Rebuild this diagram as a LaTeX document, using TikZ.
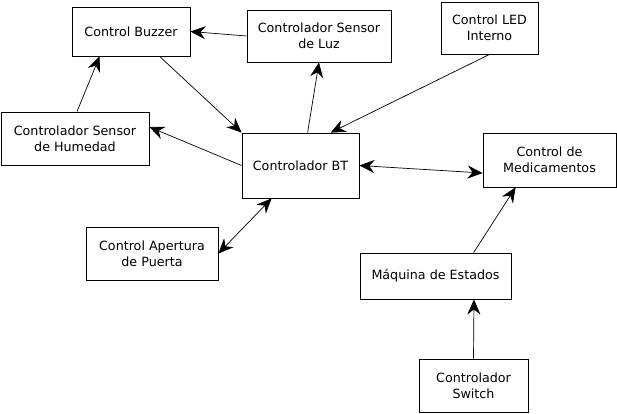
\documentclass[tikz,border=0pt]{standalone}
\usepackage{fontspec}
\setmainfont{DejaVu Sans}
\usetikzlibrary{arrows.meta}
\begin{document}
\begin{tikzpicture}[x=1pt,y=-1pt,
  box/.style={draw,line width=0.8pt,align=center,inner sep=0pt,font=\fontsize{12.7}{16}\selectfont},
  conn/.style={line width=0.7pt},
  hd/.tip={Stealth[length=15pt,width=13pt,inset=5pt]},
  tip/.style={-hd},
  tips/.style={hd-hd}]
\useasboundingbox (0,0) rectangle (617,413);
\node[box,minimum width=118pt,minimum height=49pt] (buzzer) at (131,31.5) {Control Buzzer};
\node[box,minimum width=144pt,minimum height=52pt] (luz) at (319,36) {Controlador Sensor\\de Luz};
\node[box,minimum width=97pt,minimum height=52pt] (led) at (489.5,28) {Control LED\\Interno};
\node[box,minimum width=148pt,minimum height=53pt] (hum) at (75,138.5) {Controlador Sensor\\de Humedad};
\node[box,minimum width=117pt,minimum height=65pt] (bt) at (300.5,165.5) {Controlador BT};
\node[box,minimum width=133pt,minimum height=54pt] (med) at (549.5,160) {Control de\\Medicamentos};
\node[box,minimum width=132pt,minimum height=53pt] (puerta) at (152,253.5) {Control Apertura\\de Puerta};
\node[box,minimum width=151pt,minimum height=46pt] (maq) at (435.5,276) {Máquina de Estados};
\node[box,minimum width=109pt,minimum height=53pt] (sw) at (473.5,385.5) {Controlador\\Switch};

\draw[conn,tip] (luz.west) -- (buzzer.east);
\draw[conn,tip] ([xshift=88pt]buzzer.south west) -- (bt.north west);
\draw[conn,tip] ([xshift=66pt]bt.north west) -- (luz.south);
\draw[conn,tip] (led.south) -- ([xshift=89pt]bt.north west);
\draw[conn,tip] (bt.west) -- ([yshift=11.5pt]hum.east);
\draw[conn,tip] ([xshift=2pt]hum.north) -- ([xshift=28pt]buzzer.south west);
\draw[conn,tips] (bt.east) -- ([yshift=-13pt]med.west);
\draw[conn,tips] ([xshift=30pt]bt.south west) -- (puerta.east);
\draw[conn,tip] ([xshift=114pt]maq.north west) -- ([xshift=33pt]med.south west);
\draw[conn,tip] (sw.north) -- ([xshift=38.5pt]maq.south);
\end{tikzpicture}
\end{document}
